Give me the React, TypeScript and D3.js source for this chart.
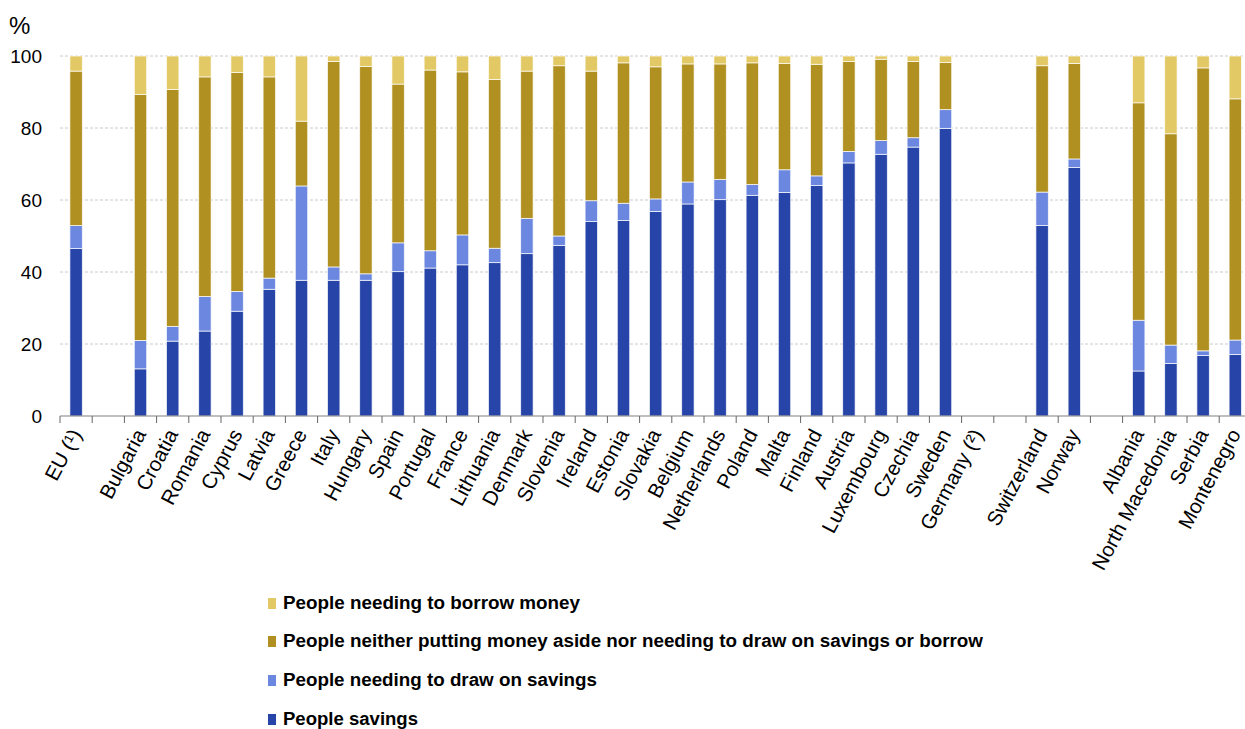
import React from "react";
import * as d3 from "d3";

const categories = [
  "EU (¹)", "", "Bulgaria", "Croatia", "Romania", "Cyprus", "Latvia", "Greece", "Italy", "Hungary",
  "Spain", "Portugal", "France", "Lithuania", "Denmark", "Slovenia", "Ireland", "Estonia", "Slovakia",
  "Belgium", "Netherlands", "Poland", "Malta", "Finland", "Austria", "Luxembourg", "Czechia", "Sweden",
  "Germany (²)", "", "Switzerland", "Norway", "", "Albania", "North Macedonia", "Serbia", "Montenegro",
];

const peopleSavings = [
  46.5, null, 13.1, 20.8, 23.6, 29.1, 35.2, 37.7, 37.7, 37.7,
  40.1, 41.1, 42.0, 42.6, 45.1, 47.4, 54.0, 54.3, 56.8,
  58.9, 60.1, 61.3, 62.1, 64.0, 70.3, 72.7, 74.7, 79.9,
  null, null, 52.9, 69.0, null, 12.5, 14.6, 16.8, 17.1,
];
const drawOnSavings = [
  6.4, null, 7.9, 4.1, 9.6, 5.5, 3.1, 26.2, 3.7, 1.8,
  8.0, 4.8, 8.3, 4.0, 9.8, 2.6, 5.8, 4.8, 3.5,
  6.1, 5.6, 3.0, 6.3, 2.7, 3.2, 3.8, 2.6, 5.2,
  null, null, 9.3, 2.4, null, 14.1, 5.1, 1.3, 4.0,
];
const neither = [
  42.9, null, 68.3, 65.8, 61.0, 60.8, 55.9, 18.0, 57.1, 57.6,
  44.1, 50.2, 45.3, 46.9, 40.9, 47.3, 36.0, 39.0, 36.7,
  32.8, 32.1, 33.8, 29.5, 31.0, 25.0, 22.6, 21.2, 13.1,
  null, null, 35.1, 26.5, null, 60.4, 58.7, 78.6, 67.0,
];
const borrowMoney = [
  4.2, null, 10.7, 9.3, 5.8, 4.6, 5.8, 18.1, 1.5, 2.9,
  7.8, 3.9, 4.4, 6.5, 4.2, 2.7, 4.2, 1.9, 3.0,
  2.2, 2.2, 1.9, 2.1, 2.3, 1.5, 0.9, 1.5, 1.8,
  null, null, 2.7, 2.1, null, 13.0, 21.6, 3.3, 11.9,
];

const seriesKeys = ["savings", "draw", "neither", "borrow"];
const seriesColors = ["#2744A8", "#6B87E0", "#B09020", "#E3C965"];
const legendLabels = [
  "People needing to borrow money",
  "People neither putting money aside nor needing to draw on savings or borrow",
  "People needing to draw on savings",
  "People savings",
];
const yTicks = [0, 20, 40, 60, 80, 100];

const W = 1245;
const H = 729;
const left = 60;
const step = 32.2;
const y0 = 416;
const y100 = 56;
const FONT = "'Liberation Sans', Arial, sans-serif";

export default function App() {
  const rows = categories.map((c, i) => ({
    idx: i,
    savings: peopleSavings[i] ?? 0,
    draw: drawOnSavings[i] ?? 0,
    neither: neither[i] ?? 0,
    borrow: borrowMoney[i] ?? 0,
  }));
  const stacked = d3.stack<any>().keys(seriesKeys)(rows);

  const x = d3
    .scaleBand<number>()
    .domain(categories.map((_, i) => i))
    .range([left, left + step * categories.length])
    .paddingInner(0)
    .paddingOuter(0);
  const bw = x.step() * 0.385;
  const y = d3.scaleLinear().domain([0, 100]).range([y0, y100]);

  const legendColors = [seriesColors[3], seriesColors[2], seriesColors[1], seriesColors[0]];
  const legendY = [603, 641, 680, 719];
  const legendLen = [297, 700, 314, 135];

  return (
    <svg width={W} height={H} style={{ position: "absolute", left: 0, top: 0, background: "#fff" }} fontFamily={FONT}>
      <text x={9} y={34} fontSize={24} fill="#000">%</text>
      {yTicks.map((t) => (
        <g key={t}>
          {t > 0 && (
            <line x1={left} x2={W} y1={y(t)} y2={y(t)} stroke="#bdbdbd" strokeWidth={0.8} strokeDasharray="3,2" />
          )}
          <text x={42} y={y(t) + 7} fontSize={19} textAnchor="end" fill="#000">{t}</text>
        </g>
      ))}
      {stacked.map((s, si) => (
        <g key={s.key} fill={seriesColors[si]}>
          {s.map((d, i) =>
            peopleSavings[i] == null ? null : (
              <rect
                key={i}
                x={(x(i) as number) + (x.step() - bw) / 2}
                y={y(d[1])}
                width={bw}
                height={Math.max(0, y(d[0]) - y(d[1]))}
                stroke="#ffffff"
                strokeOpacity={0.85}
                strokeWidth={0.8}
              />
            )
          )}
        </g>
      ))}
      <line x1={left} x2={W} y1={y0} y2={y0} stroke="#808080" strokeWidth={1.2} />
      {d3.range(categories.length + 1).map((i) => (
        <line key={i} x1={left + i * step} x2={left + i * step} y1={y0} y2={y0 + 7} stroke="#666" strokeWidth={1} />
      ))}
      {categories.map((c, i) =>
        c ? (
          <text
            key={i}
            transform={`translate(${(x(i) as number) + x.step() / 2 + 6},${y0 + 18}) rotate(-62)`}
            textAnchor="end"
            fontSize={20.5}
            fill="#000"
          >
            {c}
          </text>
        ) : null
      )}
      {legendLabels.map((l, i) => (
        <g key={l}>
          <rect x={268} y={legendY[i] - 5} width={8} height={11} fill={legendColors[i]} />
          <text
            x={283}
            y={legendY[i] + 6}
            fontSize={18}
            fontWeight="bold"
            fill="#000"
            textLength={legendLen[i]}
            lengthAdjust="spacingAndGlyphs"
          >
            {l}
          </text>
        </g>
      ))}
    </svg>
  );
}
